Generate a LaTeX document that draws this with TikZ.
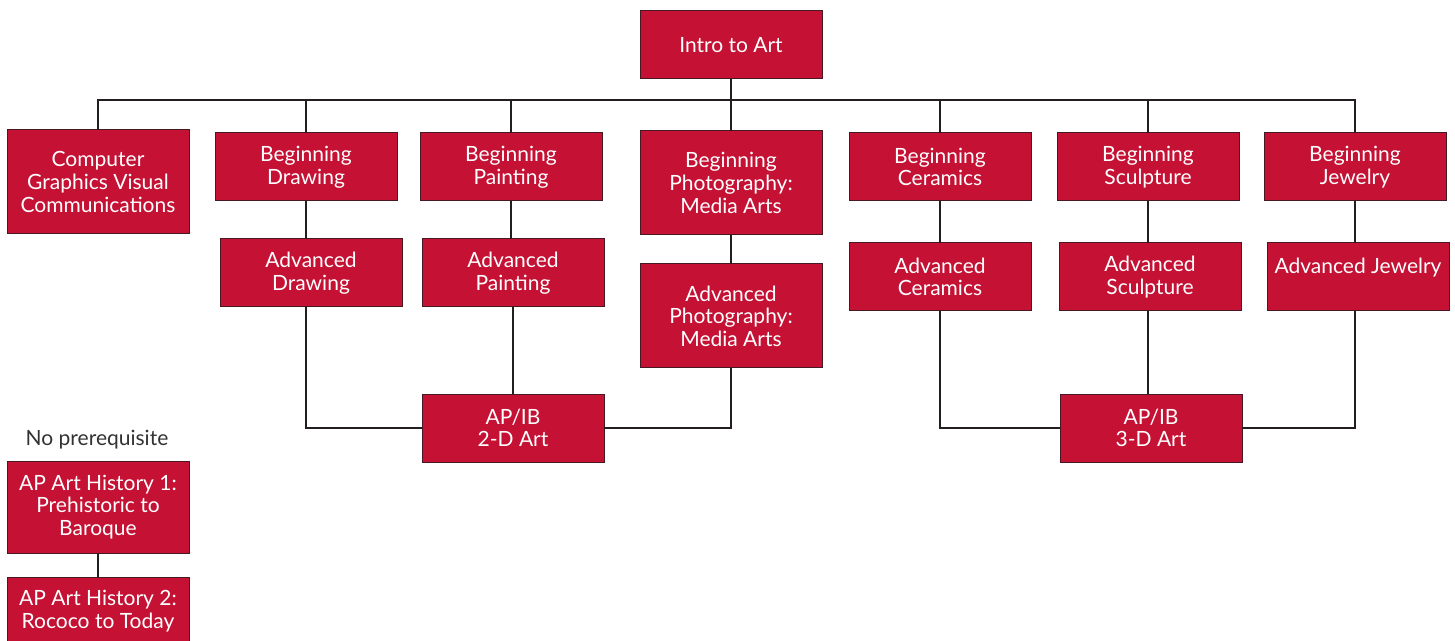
\documentclass[tikz,border=0pt]{standalone}
\usepackage{fontspec}
\setmainfont{Lato}
\usetikzlibrary{positioning}
\definecolor{artred}{RGB}{196, 17, 52}
\definecolor{artedge}{RGB}{70, 25, 35}
\definecolor{artline}{RGB}{35, 31, 32}
\definecolor{artgrey}{RGB}{50, 50, 50}

\begin{document}
\begin{tikzpicture}[
    x=0.5pt, y=-0.5pt,
    every node/.style = {font=\fontsize{10.5}{11.3}\selectfont},
    course/.style = {draw=artedge, fill=artred, text=white, line width=0.5pt,
                     minimum width=91pt, minimum height=34pt, align=center,
                     inner sep=0pt, outer sep=0pt},
    tall/.style = {minimum height=52pt},
    link/.style = {draw=artline, line width=1pt}
]
  \useasboundingbox (0,0) rectangle (1455,641);

  % top level
  \node[course] (intro) at (731,45) {Intro to Art};
  \coordinate (bus) at (731,100);

  % beginning courses
  \node[course, tall] (cgvc)   at (98,182)  {Computer\\Graphics Visual\\Communications};
  \node[course] (bdraw)  at (306,167) {Beginning\\Drawing};
  \node[course] (bpaint) at (511,167) {Beginning\\Painting};
  \node[course, tall] (bphoto) at (731,183) {Beginning\\Photography:\\Media Arts};
  \node[course] (bceram) at (940,167) {Beginning\\Ceramics};
  \node[course] (bsculp) at (1148,167) {Beginning\\Sculpture};
  \node[course] (bjewel) at (1355,167) {Beginning\\Jewelry};

  % advanced courses
  \node[course] (adraw)  at (311,273) {Advanced\\Drawing};
  \node[course] (apaint) at (513,273) {Advanced\\Painting};
  \node[course, tall] (aphoto) at (731,316) {Advanced\\Photography:\\Media Arts};
  \node[course] (aceram) at (940,277) {Advanced\\Ceramics};
  \node[course] (asculp) at (1150,277) {Advanced\\Sculpture};
  \node[course] (ajewel) at (1358,277) {Advanced Jewelry\\\mbox{}};

  % AP/IB
  \node[course] (ap2d) at (513,428)  {AP/IB\\2-D Art};
  \node[course] (ap3d) at (1151,428) {AP/IB\\3-D Art};

  % art history
  \node[text=artgrey, inner sep=0pt] (noprereq) at (97,440) {No prerequisite};
  \node[course, minimum height=46pt] (ahist1) at (98,507) {AP Art History 1:\\Prehistoric to\\Baroque};
  \node[course, minimum height=34pt] (ahist2) at (98,611) {AP Art History 2:\\Rococo to Today};

  % connectors
  \draw[link] (intro) -- (bus);
  \foreach \c in {cgvc, bdraw, bpaint, bphoto, bceram, bsculp, bjewel}
    \draw[link] (\c.north) |- (bus);

  \draw[link] (bdraw.south)  -- (bdraw.south |- adraw.north);
  \draw[link] (bpaint.south) -- (bpaint.south |- apaint.north);
  \draw[link] (bphoto) -- (aphoto);
  \draw[link] (bceram) -- (aceram);
  \draw[link] (bsculp.south) -- (bsculp.south |- asculp.north);
  \draw[link] (bjewel.south) -- (bjewel.south |- ajewel.north);

  \draw[link] (bdraw.south |- adraw.south) |- (ap2d.west);
  \draw[link] (apaint) -- (ap2d);
  \draw[link] (aphoto) |- (ap2d.east);
  \draw[link] (aceram) |- (ap3d.west);
  \draw[link] (asculp.south -| bsculp.south) -- (bsculp.south |- ap3d.north);
  \draw[link] (ajewel.south -| bjewel.south) |- (ap3d.east);

  \draw[link] (ahist1) -- (ahist2);
\end{tikzpicture}
\end{document}
